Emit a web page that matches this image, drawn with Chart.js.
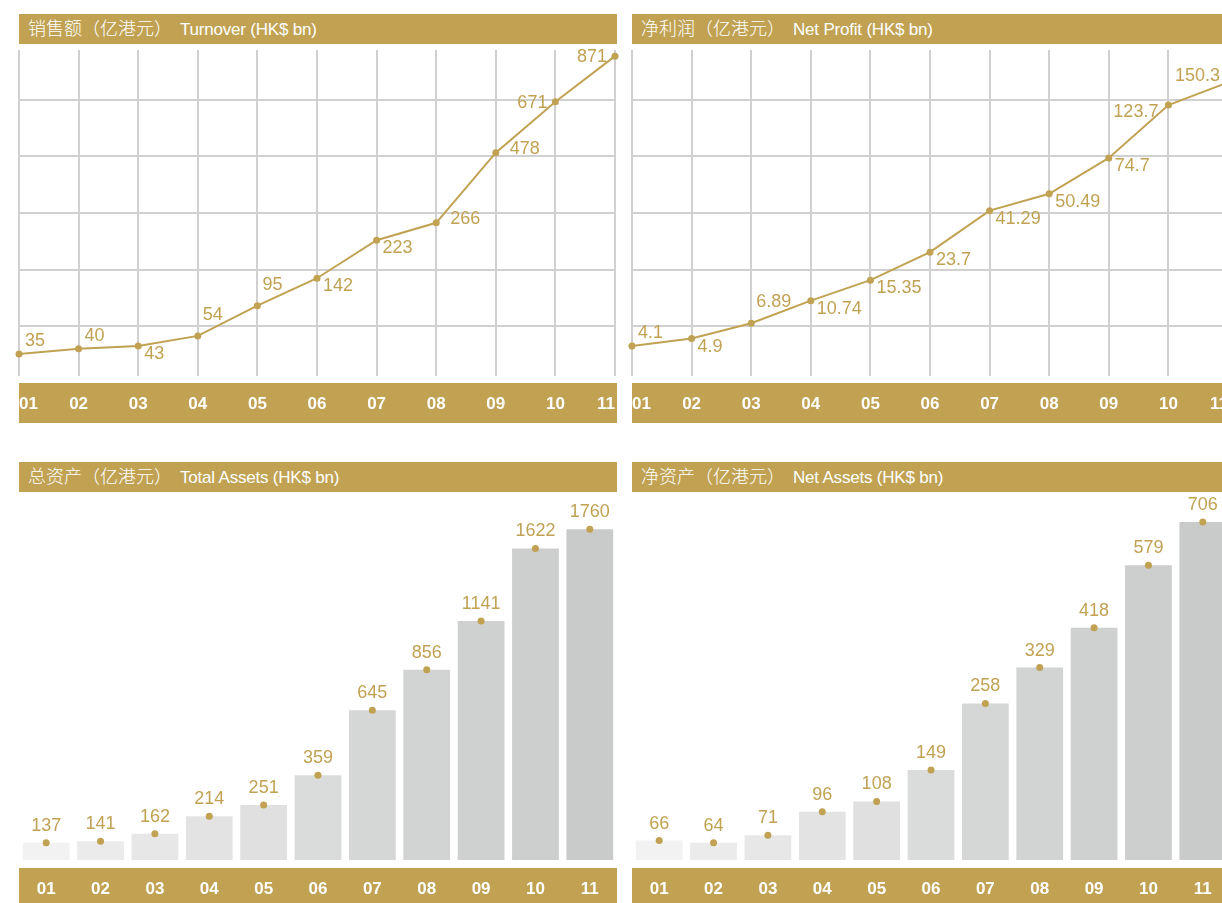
<!DOCTYPE html>
<html>
<head>
<meta charset="utf-8">
<title>Turnover / Net Profit / Total Assets / Net Assets 01-11</title>
<script src="https://cdn.jsdelivr.net/npm/chart.js@4"></script>
<style>
  html, body { margin: 0; padding: 0; background: #fff; width: 1222px; height: 903px; overflow: hidden; }
  .head {
    position: absolute; width: 598px; height: 30px; box-sizing: border-box; padding-left: 9px;
    background: #c1a253; color: #fff; line-height: 30px; white-space: nowrap; letter-spacing: -0.2px;
    font: 17px 'Liberation Sans', 'Noto Sans CJK SC', sans-serif;
  }
  .head span { font: 300 18px 'Noto Sans CJK SC', sans-serif; letter-spacing: 0; margin-right: 8px; }
  canvas { position: absolute; }
</style>
</head>
<body>
<div class="head" style="left:19px;top:14px"><span>销售额（亿港元）</span>Turnover (HK$ bn)</div>
<div class="head" style="left:632px;top:14px"><span>净利润（亿港元）</span>Net Profit (HK$ bn)</div>
<div class="head" style="left:19px;top:462px"><span>总资产（亿港元）</span>Total Assets (HK$ bn)</div>
<div class="head" style="left:632px;top:462px"><span>净资产（亿港元）</span>Net Assets (HK$ bn)</div>

<canvas id="turnover"    width="620" height="377" style="left:11px;top:46px"></canvas>
<canvas id="netProfit"   width="620" height="377" style="left:624px;top:46px"></canvas>
<canvas id="totalAssets" width="614" height="416" style="left:11px;top:492px"></canvas>
<canvas id="netAssets"   width="614" height="416" style="left:624px;top:492px"></canvas>

<script>
// data (HK$ bn)
const years = ['01', '02', '03', '04', '05', '06', '07', '08', '09', '10', '11'];
const turnover = [35, 40, 43, 54, 95, 142, 223, 266, 478, 671, 871];
const netProfit = [4.1, 4.9, 6.89, 10.74, 15.35, 23.7, 41.29, 50.49, 74.7, 123.7, 150.3];
const totalAssets = [137, 141, 162, 214, 251, 359, 645, 856, 1141, 1622, 1760];
const netAssets = [66, 64, 71, 96, 108, 149, 258, 329, 418, 579, 706];

// where each value label sits next to its point
const turnoverLabelAt = ['ne', 'ne', 'se', 'n2', 'n2', 'se', 'se', 'e', 'e', 'w', 'w'];
const profitLabelAt = ['ne', 'se', 'n2', 'se', 'se', 'se', 'se', 'se', 'se', 'sw', 'nw'];

const GOLD = '#c1a253';
const GRID = '#d0d0d0';
const barShades = ['#f2f2f2', '#ebebeb', '#e7e7e7', '#e3e3e3', '#e0e0e0', '#dadbdb',
                   '#d5d6d6', '#d2d3d3', '#cfd0d0', '#cdcece', '#c9caca'];
const PLACE = {
  ne: [6, -13, 'left'], n2: [5, -21, 'left'], se: [6, 8, 'left'], e: [14, -4, 'left'],
  w: [-8, 1, 'right'], sw: [-10, 7, 'right'], nw: [-8, -6, 'right'], n: [0, -17, 'center']
};

// the original charts are not drawn to a linear scale, a power scale fits them well
class PowerScale extends Chart.LinearScale {
  static id = 'power';
  static defaults = Chart.LinearScale.defaults;
  _pw(v) { return Math.pow(Math.max(v, this.min), this.options.exponent); }
  valueAt(f) {
    const a = this._pw(this.min), b = this._pw(this.max);
    return Math.pow(a + f * (b - a), 1 / this.options.exponent);
  }
  getPixelForValue(v) {
    const a = this._pw(this.min), b = this._pw(this.max);
    return this.getPixelForDecimal((this._pw(v) - a) / (b - a));
  }
  getValueForPixel(px) { return this.valueAt(this.getDecimalForPixel(px)); }
}
Chart.register(PowerScale);

// gold band behind the x labels + value labels next to the points
const decor = {
  id: 'decor',
  beforeDraw(chart, args, opts) {
    const { ctx, chartArea, scales: { x } } = chart;
    ctx.save();
    ctx.fillStyle = GOLD;
    ctx.fillRect(chartArea.left, x.top + opts.gap, 598, x.bottom - x.top - opts.gap);
    ctx.restore();
  },
  afterDatasetsDraw(chart, args, opts) {
    const { ctx } = chart;
    const pts = chart.getDatasetMeta(0).data;
    const values = chart.data.datasets[0].data;
    ctx.save();
    ctx.font = "18px 'Liberation Sans', sans-serif";
    ctx.fillStyle = GOLD;
    ctx.textBaseline = 'middle';
    pts.forEach((p, i) => {
      const [dx, dy, align] = PLACE[opts.place ? opts.place[i] : 'n'];
      ctx.textAlign = align;
      ctx.fillText(String(values[i]), p.x + dx, p.y + dy);
    });
    ctx.restore();
  }
};

function makeChart(id, values, cfg) {
  const bars = cfg.bars;
  const datasets = [{
    type: 'line', data: values, showLine: !bars, borderColor: GOLD, borderWidth: 2,
    pointRadius: 3.5, pointBackgroundColor: GOLD, pointBorderWidth: 0, clip: false, order: 0
  }];
  if (bars) {
    datasets.push({
      type: 'bar', data: values, backgroundColor: barShades,
      barPercentage: 0.86, categoryPercentage: 1, order: 1
    });
  }
  const gridAt = [-2, -1, 0, 1, 2].map(k => 0.5 + k * 0.174);
  new Chart(document.getElementById(id), {
    data: { labels: years, datasets },
    options: {
      responsive: false,
      animation: false,
      layout: { padding: { left: 8, right: bars ? 8 : 16, top: bars ? 8 : 4, bottom: 0 } },
      plugins: {
        legend: { display: false },
        tooltip: { enabled: false },
        decor: { gap: bars ? 8 : 7, place: cfg.place }
      },
      scales: {
        x: {
          type: 'category',
          offset: bars,
          grid: { display: !bars, color: GRID, lineWidth: 2, drawTicks: false },
          border: { display: false },
          ticks: {
            color: '#fff', font: { family: 'Liberation Sans', size: 17, weight: 'bold' },
            padding: bars ? 19 : 18, maxRotation: 0, autoSkip: false, align: bars ? 'center' : 'inner'
          },
          afterFit: s => { s.height = bars ? 48 : 47; s.paddingLeft = 0; s.paddingRight = 0; }
        },
        y: {
          type: 'power',
          exponent: cfg.exponent,
          min: cfg.min,
          max: cfg.max,
          bounds: 'data',
          display: !bars,
          grid: { color: GRID, lineWidth: 2, drawTicks: false },
          border: { display: false },
          ticks: { display: false },
          afterBuildTicks: s => { s.ticks = gridAt.map(f => ({ value: s.valueAt(f) })); },
          afterFit: s => { s.width = 0; }
        }
      }
    },
    plugins: [decor]
  });
}

makeChart('turnover', turnover, { exponent: 0.5, min: 17.4, max: 900, place: turnoverLabelAt });
makeChart('netProfit', netProfit, { exponent: 0.3, min: 1.78, max: 195, place: profitLabelAt });
makeChart('totalAssets', totalAssets, { bars: true, exponent: 0.6, min: 94.7, max: 1980 });
makeChart('netAssets', netAssets, { bars: true, exponent: 0.5, min: 49, max: 775 });
</script>
</body>
</html>
